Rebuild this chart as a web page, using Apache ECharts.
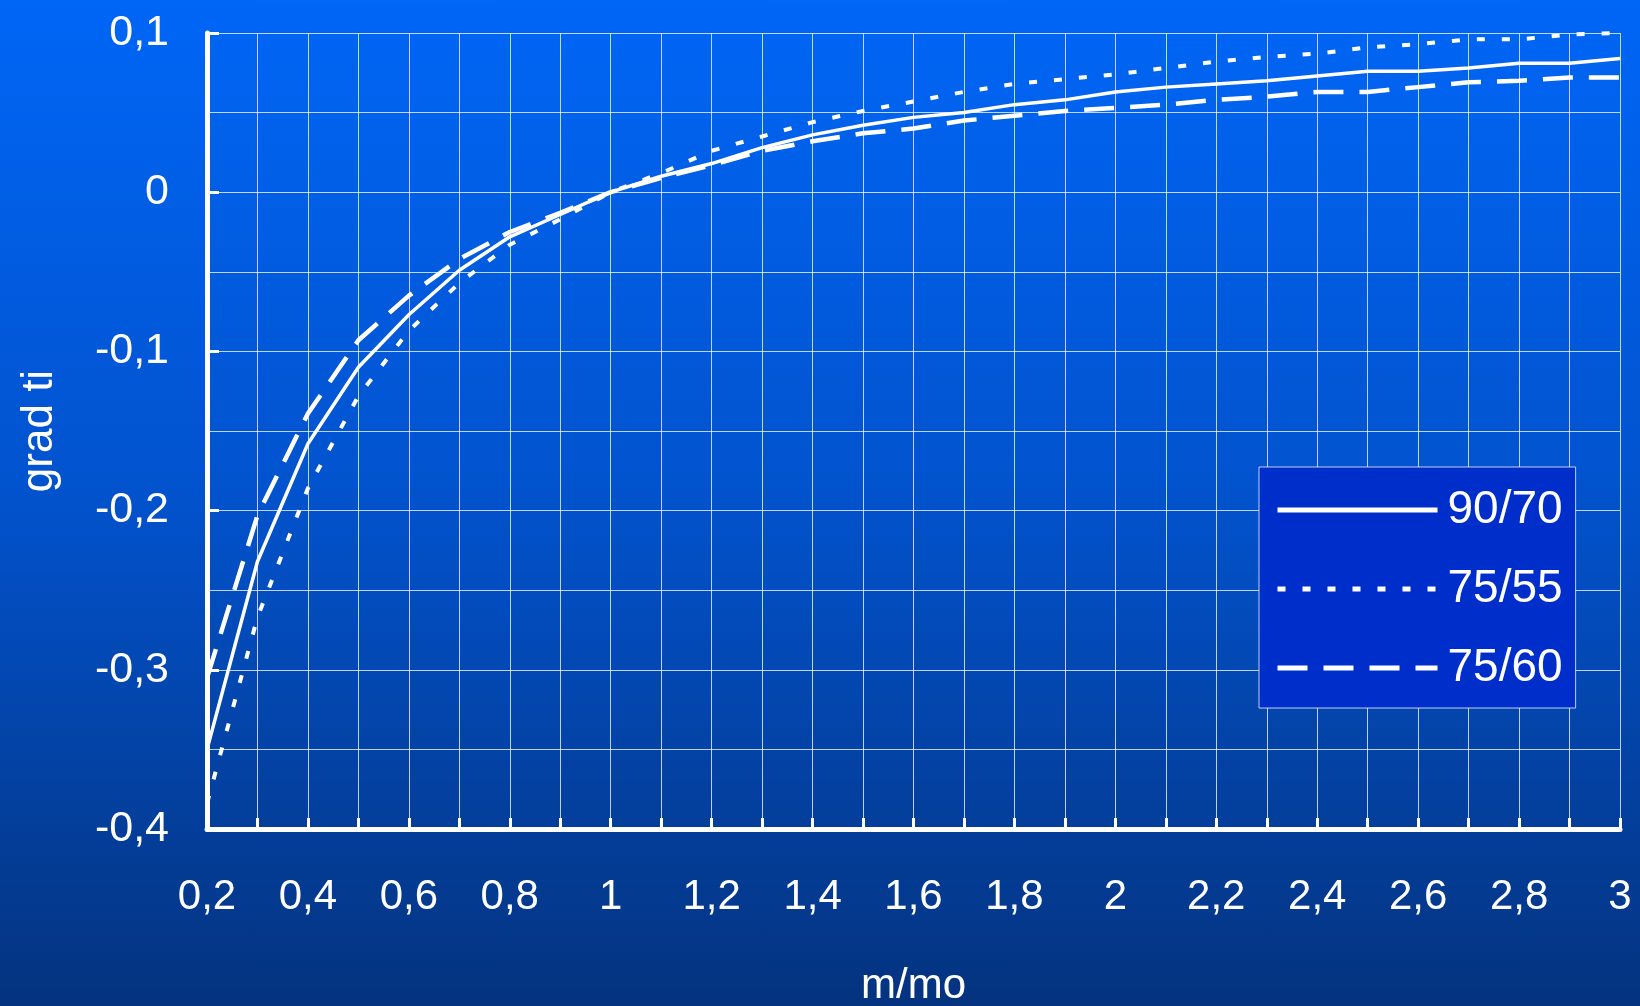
<!DOCTYPE html>
<html>
<head>
<meta charset="utf-8">
<script src="https://cdn.jsdelivr.net/npm/echarts@6/dist/echarts.min.js"></script>
<style>
html,body{margin:0;padding:0;}
#c{width:1640px;height:1006px;background:linear-gradient(to bottom,#0066f6 0%,#0252cc 50%,#04337f 100%);}
</style>
</head>
<body>
<div id="c"></div>
<script>
// x categories (m/mo)
const categories = ['0,2','0,3','0,4','0,5','0,6','0,7','0,8','0,9','1','1,1','1,2','1,3','1,4','1,5','1,6','1,7','1,8','1,9','2','2,1','2,2','2,3','2,4','2,5','2,6','2,7','2,8','2,9','3'];

// series values (grad ti)
const s9070 = [-0.350,-0.232,-0.158,-0.110,-0.077,-0.049,-0.028,-0.014,0.000,0.010,0.018,0.028,0.036,0.042,0.047,0.050,0.055,0.058,0.063,0.066,0.068,0.070,0.073,0.076,0.076,0.078,0.081,0.081,0.084];
const s7555 = [-0.384,-0.267,-0.186,-0.128,-0.087,-0.057,-0.033,-0.017,0.000,0.012,0.026,0.035,0.044,0.051,0.057,0.063,0.068,0.071,0.074,0.078,0.082,0.085,0.087,0.091,0.093,0.096,0.096,0.099,0.100];
const s7560 = [-0.305,-0.203,-0.139,-0.093,-0.065,-0.042,-0.025,-0.013,0.000,0.009,0.017,0.026,0.032,0.037,0.040,0.045,0.048,0.051,0.053,0.055,0.058,0.060,0.063,0.063,0.066,0.069,0.070,0.072,0.072];

const seriesNames = ['90/70','75/55','75/60'];
const xTitle = 'm/mo';
const yTitle = 'grad ti';

const FONT = 'Liberation Sans, Arial, sans-serif';
const chart = echarts.init(document.getElementById('c'), null, {renderer:'canvas'});

chart.setOption({
  animation: false,
  backgroundColor: 'transparent',
  grid: {left: 207, right: 20, top: 33, bottom: 177, containLabel: false, outerBoundsMode: 'none'},
  legend: {
    orient: 'vertical',
    left: 1259, top: 467,
    padding: [20, 13, 17, 16],
    itemGap: 33,
    itemWidth: 160,
    itemHeight: 14,
    backgroundColor: '#002ecb',
    borderColor: 'rgba(255,255,255,0.75)',
    borderWidth: 1,
    borderRadius: 0,
    data: seriesNames,
    itemStyle: {opacity: 0},
    lineStyle: {width: 5},
    textStyle: {color: '#fff', fontSize: 46, fontFamily: FONT, padding: [0,0,0,5]}
  },
  xAxis: {
    type: 'category',
    data: categories,
    boundaryGap: false,
    name: xTitle,
    nameLocation: 'middle',
    nameGap: 136,
    nameTextStyle: {color: '#fff', fontSize: 42, fontFamily: FONT},
    axisLine: {show: true, onZero: false, lineStyle: {color: '#fff', width: 5}},
    axisTick: {show: true, inside: true, interval: 0, length: 11, lineStyle: {color: '#fff', width: 3}},
    axisLabel: {interval: 1, color: '#fff', fontSize: 42, fontFamily: FONT, margin: 47},
    splitLine: {show: true, interval: 0, lineStyle: {color: 'rgba(255,255,255,0.75)', width: 1}}
  },
  yAxis: {
    type: 'value',
    min: -0.4, max: 0.1, interval: 0.1,
    name: yTitle,
    nameLocation: 'middle',
    nameRotate: 90,
    nameGap: 145,
    nameTextStyle: {color: '#fff', fontSize: 44, fontFamily: FONT},
    axisLine: {show: true, lineStyle: {color: '#fff', width: 5}},
    axisTick: {show: true, inside: true, length: 12, lineStyle: {color: '#fff', width: 3}},
    minorTick: {show: false, splitNumber: 2},
    minorSplitLine: {show: true, lineStyle: {color: 'rgba(255,255,255,0.75)', width: 1}},
    axisLabel: {
      color: '#fff', fontSize: 43, fontFamily: FONT, margin: 38,
      formatter: v => { const n = Number(v.toFixed(2)); return (n === 0 ? '0' : String(n)).replace('.', ','); }
    },
    splitLine: {show: true, lineStyle: {color: 'rgba(255,255,255,0.75)', width: 1}}
  },
  series: [
    {name: seriesNames[0], type: 'line', data: s9070, symbol: 'none', lineStyle: {color: '#fff', width: 3.5, type: 'solid'}, itemStyle: {color: '#fff'}},
    {name: seriesNames[1], type: 'line', data: s7555, symbol: 'none', lineStyle: {color: '#fff', width: 4, type: [8, 17]}, itemStyle: {color: '#fff'}},
    {name: seriesNames[2], type: 'line', data: s7560, symbol: 'none', lineStyle: {color: '#fff', width: 4.5, type: [30, 16]}, itemStyle: {color: '#fff'}}
  ]
});
</script>
</body>
</html>
